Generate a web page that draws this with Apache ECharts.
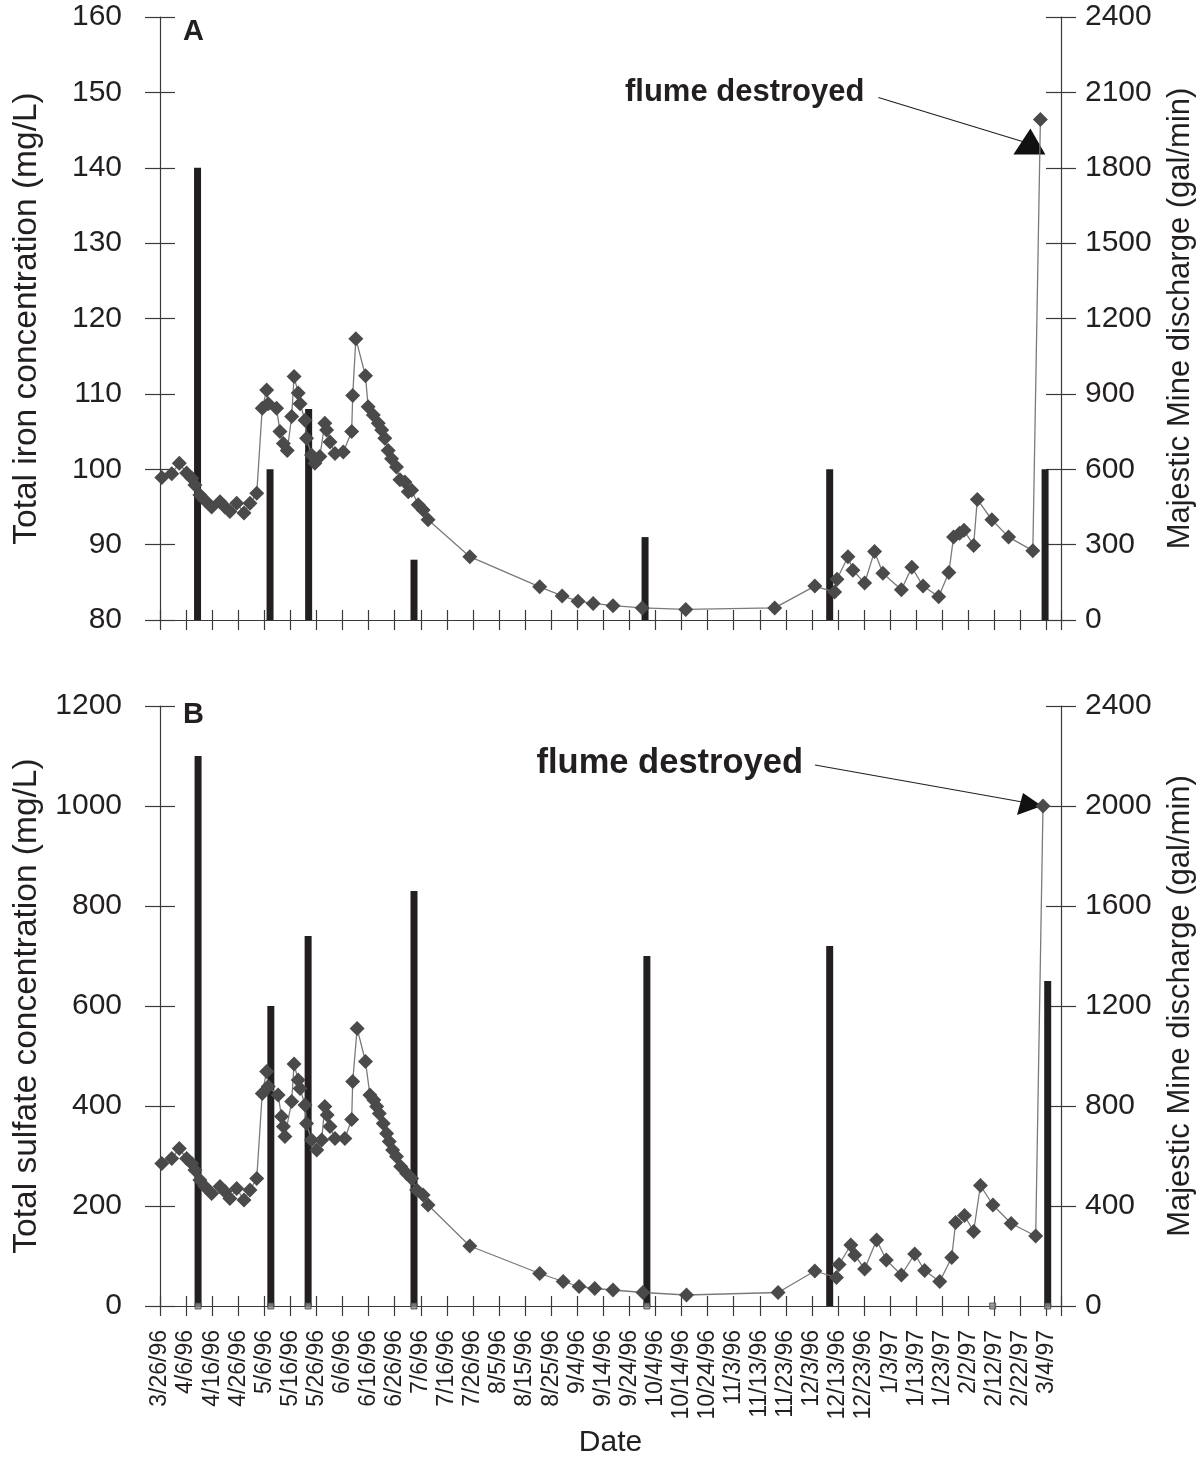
<!DOCTYPE html>
<html><head><meta charset="utf-8">
<script src="https://cdn.jsdelivr.net/npm/echarts@6/dist/echarts.min.js"></script>
<style>html,body{margin:0;padding:0;background:#fff}#c{width:1204px;height:1460px}</style>
</head><body><div id="c"></div>
<script>
// x positions are expressed in label-interval units (0 = 3/26/96, 34 = 3/4/97)
const dateLabels = ['3/26/96','4/6/96','4/16/96','4/26/96','5/6/96','5/16/96','5/26/96','6/6/96','6/16/96','6/26/96','7/6/96','7/16/96','7/26/96','8/5/96','8/15/96','8/25/96','9/4/96','9/14/96','9/24/96','10/4/96','10/14/96','10/24/96','11/3/96','11/13/96','11/23/96','12/3/96','12/13/96','12/23/96','1/3/97','1/13/97','1/23/97','2/2/97','2/12/97','2/22/97','3/4/97'];

const ironDates = [0.07,0.45,0.74,1.02,1.22,1.34,1.53,1.72,1.98,2.30,2.49,2.68,2.94,3.22,3.45,3.71,3.92,4.09,4.15,4.47,4.60,4.73,4.88,5.05,5.14,5.30,5.37,5.56,5.62,5.81,5.94,6.13,6.32,6.39,6.52,6.71,7.03,7.35,7.39,7.51,7.88,7.98,8.18,8.37,8.50,8.62,8.75,8.88,9.07,9.20,9.39,9.52,9.65,9.90,10.09,10.28,11.88,14.56,15.42,16.03,16.61,17.37,18.49,20.16,23.57,25.11,25.87,25.96,26.38,26.57,27.02,27.40,27.72,28.43,28.83,29.26,29.86,30.25,30.43,30.66,30.83,31.20,31.34,31.90,32.54,33.47,33.76];
const ironValues = [98.9,99.4,100.8,99.5,98.8,97.9,96.6,95.9,95.0,95.7,95.0,94.4,95.5,94.2,95.5,96.8,108.1,110.5,108.7,108.1,105.0,103.4,102.5,107.0,112.3,110.1,108.7,106.5,104.1,101.9,100.8,101.7,106.1,105.2,103.6,102.1,102.3,105.0,109.8,117.3,112.4,108.3,107.2,106.1,105.2,104.1,102.5,101.4,100.3,98.6,98.3,97.0,97.2,95.3,94.6,93.3,88.4,84.4,83.2,82.5,82.2,81.9,81.6,81.4,81.6,84.5,83.7,85.4,88.4,86.6,84.9,89.1,86.2,84.0,87.0,84.5,83.1,86.3,91.0,91.5,91.9,89.9,96.0,93.3,91.0,89.2,146.4];

const sulfateDates = [0.07,0.45,0.74,1.02,1.22,1.34,1.53,1.72,1.98,2.30,2.49,2.68,2.94,3.22,3.45,3.71,3.92,4.09,4.15,4.53,4.66,4.73,4.79,5.05,5.14,5.30,5.37,5.56,5.62,5.81,6.01,6.20,6.32,6.41,6.52,6.71,7.09,7.35,7.39,7.56,7.88,8.05,8.20,8.31,8.41,8.56,8.69,8.79,8.92,9.07,9.23,9.46,9.65,9.84,10.09,10.28,11.88,14.56,15.46,16.07,16.67,17.37,18.52,20.19,23.70,25.11,25.94,26.04,26.49,26.64,27.02,27.48,27.85,28.43,28.94,29.32,29.90,30.36,30.51,30.85,31.20,31.46,31.94,32.64,33.58,33.86];
const sulfateValues = [285,295,315,295,285,272,252,239,225,239,229,215,235,212,232,255,425,469,439,422,379,359,339,409,484,452,435,402,365,332,312,332,399,382,359,335,335,373,449,555,489,422,412,399,385,365,345,329,312,299,279,265,255,232,222,202,120,65,49,39,35,32,27,22,27,70,57,83,122,102,74,132,92,62,104,71,49,97,167,181,149,241,202,165,140,1000];

const dischargeDatesA = [1.44,4.22,5.70,9.74,18.60,25.68,33.94];
const dischargeA = [1800,600,840,240,330,600,600];
const dischargeDatesB = [1.46,4.25,5.68,9.74,18.67,25.68,34.04];
const dischargeB = [2200,1200,1480,1660,1400,1440,1300];
const zeroMarkDatesB = [1.46,4.25,5.68,9.74,18.67,31.93,34.04];

const ironTicks = {min:80,max:160,interval:10};
const sulfateTicks = {min:0,max:1200,interval:200};
const dischargeTicksA = {min:0,max:2400,interval:300};
const dischargeTicksB = {min:0,max:2400,interval:400};
const xRange = {min:0,max:34.55,interval:1};

const FONT = 'Liberation Sans, Arial, Helvetica, sans-serif';
const AXC = '#3a3a3a';
const pairs = (xs, ys) => xs.map((x,i)=>[x, ys[i]]);

function xAx(grid, main, labels){
  return Object.assign({type:'value', gridIndex:grid, position:'bottom'}, xRange, {
    axisLine:{show:main, onZero:false, lineStyle:{color:AXC,width:1.2}},
    axisTick:{show:true, inside:!main, length:10, lineStyle:{color:AXC,width:1.2}},
    splitLine:{show:false},
    axisLabel:{show:main && labels, rotate:90, margin:24, fontSize:23, color:'#231f20', fontFamily:FONT,
      formatter:v=>{const r=Math.round(v);return Math.abs(v-r)<1e-6?(dateLabels[r]||''):'';}},
    name: (main&&labels)?'Date':'', nameLocation:'middle', nameGap:122,
    nameTextStyle:{fontSize:30,color:'#231f20',fontFamily:FONT}
  });
}
function yAx(grid, side, main, ticks, name, margin, gap, nameSize){
  return Object.assign({type:'value', gridIndex:grid, position:side}, ticks, {
    axisLine:{show:main, onZero:false, lineStyle:{color:AXC,width:1.2}},
    axisTick:{show:true, inside:!main, length:15, lineStyle:{color:AXC,width:1.2}},
    splitLine:{show:false},
    axisLabel:{show:main, margin:margin, fontSize:30, color:'#231f20', fontFamily:FONT, formatter:v=>String(v)},
    name: main?name:'', nameLocation:'middle', nameRotate:90, nameGap:gap,
    nameTextStyle:{fontSize:nameSize||31,color:'#231f20',fontFamily:FONT},
    nameMoveOverlap:false
  });
}

const chart = echarts.init(document.getElementById('c'), null, {renderer:'canvas'});
const diamond = {type:'line', symbol:'diamond', symbolSize:15, showAllSymbol:true,
  lineStyle:{color:'#7a7a7a',width:1.3}, itemStyle:{color:'#4a4a4a'}, z:5};
chart.setOption({
  animation:false,
  backgroundColor:'#fff',
  grid:[
    {left:160, top:17, width:901, height:603, outerBoundsMode:'none'},
    {left:160, top:706, width:901, height:600, outerBoundsMode:'none'}
  ],
  xAxis:[xAx(0,true,false), xAx(0,false,false), xAx(1,true,true), xAx(1,false,false)],
  yAxis:[
    yAx(0,'left',true,ironTicks,'Total iron concentration (mg/L)',38,116,33.5),
    yAx(0,'right',true,dischargeTicksA,'Majestic Mine discharge (gal/min)',24,104,31),
    yAx(0,'left',false,ironTicks,'',0,0),
    yAx(0,'right',false,dischargeTicksA,'',0,0),
    yAx(1,'left',true,sulfateTicks,'Total sulfate concentration (mg/L)',38,116,33.5),
    yAx(1,'right',true,dischargeTicksB,'Majestic Mine discharge (gal/min)',24,104,31),
    yAx(1,'left',false,sulfateTicks,'',0,0),
    yAx(1,'right',false,dischargeTicksB,'',0,0)
  ],
  series:[
    {type:'bar', xAxisIndex:0, yAxisIndex:1, barWidth:7, itemStyle:{color:'#231f20'}, data:pairs(dischargeDatesA,dischargeA), z:2},
    Object.assign({}, diamond, {xAxisIndex:0, yAxisIndex:0, data:pairs(ironDates,ironValues)}),
    {type:'bar', xAxisIndex:2, yAxisIndex:5, barWidth:7, itemStyle:{color:'#231f20'}, data:pairs(dischargeDatesB,dischargeB), z:2},
    {type:'scatter', xAxisIndex:2, yAxisIndex:5, symbol:'rect', symbolSize:6, itemStyle:{color:'#8a8a8a',borderColor:'#444',borderWidth:1},
      data:zeroMarkDatesB.map(x=>[x,0]), z:3},
    Object.assign({}, diamond, {xAxisIndex:2, yAxisIndex:4, data:pairs(sulfateDates,sulfateValues)})
  ]
});

// annotations anchored to the last ("flume destroyed") sample of each panel
const pA = chart.convertToPixel({xAxisIndex:0, yAxisIndex:0}, [ironDates[ironDates.length-1], ironValues[ironValues.length-1]]);
const pB = chart.convertToPixel({xAxisIndex:2, yAxisIndex:4}, [sulfateDates[sulfateDates.length-1], sulfateValues[sulfateValues.length-1]]);
const bold = {fontWeight:'bold', fill:'#231f20', fontFamily:FONT};
chart.setOption({graphic:[
  {type:'text', left:183, top:17, style:Object.assign({text:'A', fontSize:29}, bold)},
  {type:'text', left:183, top:700, style:Object.assign({text:'B', fontSize:29}, bold)},
  {type:'text', x:pA[0]-176, y:pA[1]-27, style:Object.assign({text:'flume destroyed', textAlign:'right', textVerticalAlign:'middle', fontSize:31}, bold)},
  {type:'line', shape:{x1:pA[0]-162, y1:pA[1]-22, x2:pA[0]-18, y2:pA[1]+22}, style:{stroke:'#231f20', lineWidth:1.2}},
  {type:'polygon', shape:{points:[[pA[0]-10,pA[1]+9],[pA[0]-27,pA[1]+35],[pA[0]+5,pA[1]+35]]}, style:{fill:'#111'}},
  {type:'text', x:pB[0]-240, y:pB[1]-43, style:Object.assign({text:'flume destroyed', textAlign:'right', textVerticalAlign:'middle', fontSize:34.5}, bold)},
  {type:'line', shape:{x1:pB[0]-228, y1:pB[1]-41, x2:pB[0]-15, y2:pB[1]-3}, style:{stroke:'#231f20', lineWidth:1.2}},
  {type:'polygon', shape:{points:[[pB[0]-1,pB[1]],[pB[0]-20,pB[1]-13],[pB[0]-26,pB[1]+9]]}, style:{fill:'#111'}}
]});
</script></body></html>
